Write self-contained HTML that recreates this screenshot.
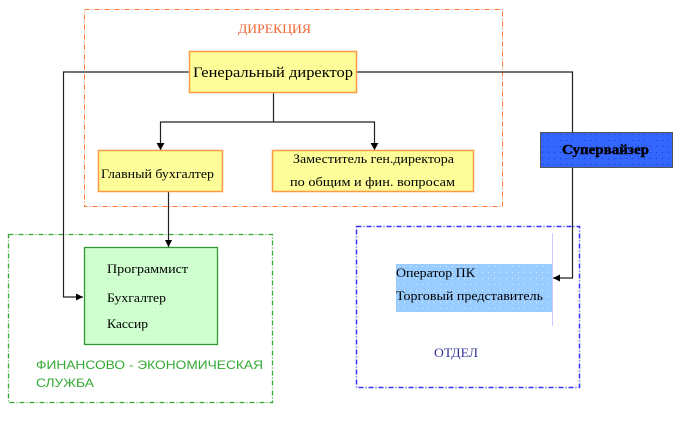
<!DOCTYPE html>
<html><head><meta charset="utf-8">
<style>
html,body{margin:0;padding:0;background:#fff;}
svg{display:block;}
.s{font-family:"Liberation Serif","Noto Serif CJK SC",serif;}
.a{font-family:"Liberation Sans","Noto Sans CJK SC",sans-serif;}
</style></head>
<body>
<svg width="673" height="423" viewBox="0 0 673 423" xmlns="http://www.w3.org/2000/svg">
<defs>
<pattern id="dy" width="4" height="4" patternUnits="userSpaceOnUse"><rect width="4" height="4" fill="#ffff99"/><rect x="1" y="1" width="1" height="1" fill="#f4eea0"/></pattern>
<pattern id="dg" width="4" height="4" patternUnits="userSpaceOnUse"><rect width="4" height="4" fill="#ccffcc"/><rect x="1" y="1" width="1" height="1" fill="#e8ffe8"/></pattern>
<pattern id="db" width="6" height="6" patternUnits="userSpaceOnUse"><rect width="6" height="6" fill="#3366ff"/><rect x="2" y="2" width="1" height="1" fill="#1a3acc"/></pattern>
<pattern id="dl" width="6" height="6" patternUnits="userSpaceOnUse"><rect width="6" height="6" fill="#99ccff"/><rect x="2" y="2" width="1" height="1" fill="#d8ecff"/></pattern>
<marker id="ar" viewBox="0 0 10 10" refX="10" refY="5" markerWidth="7" markerHeight="7" markerUnits="userSpaceOnUse" orient="auto"><path d="M0,0 L10,5 L0,10 z" fill="#000"/></marker>
</defs>

<!-- dashed group boxes -->
<rect x="84.5" y="9.5" width="418" height="197" fill="none" stroke="#ff7733" stroke-width="1" stroke-dasharray="5 2 1 2"/>
<rect x="8.5" y="234.5" width="264" height="168" fill="none" stroke="#33aa33" stroke-width="1.3" stroke-dasharray="5 2 1 2"/>
<rect x="356.5" y="226.5" width="223" height="161" fill="none" stroke="#3333ff" stroke-width="1.5" stroke-dasharray="5 2 1 2"/>

<text x="238" y="33" class="s" font-size="13" fill="#ee6633" textLength="73" lengthAdjust="spacingAndGlyphs">ДИРЕКЦИЯ</text>

<!-- connectors -->
<polyline points="189,72 63.5,72 63.5,297 83,297" fill="none" stroke="#222" stroke-width="1.2" marker-end="url(#ar)"/>
<polyline points="357,72 572.5,72 572.5,132" fill="none" stroke="#222" stroke-width="1.2"/>
<polyline points="572.5,168 572.5,278 553,278" fill="none" stroke="#222" stroke-width="1.2" marker-end="url(#ar)"/>
<line x1="273.5" y1="93" x2="273.5" y2="122" stroke="#222" stroke-width="1.2"/>
<polyline points="160.5,150 160.5,122 374.5,122 374.5,150" fill="none" stroke="#222" stroke-width="1.2"/>
<path d="M156.5,143 L164.5,143 L160.5,150 z" fill="#000"/>
<path d="M370.5,143 L378.5,143 L374.5,150 z" fill="#000"/>
<line x1="168.5" y1="192" x2="168.5" y2="247" stroke="#222" stroke-width="1.2" marker-end="url(#ar)"/>

<!-- Генеральный директор -->
<rect x="189.5" y="51.5" width="167" height="41" fill="url(#dy)" stroke="#ff9944" stroke-width="1.5"/>
<text x="193" y="77" class="s" font-size="15" fill="#000" textLength="160" lengthAdjust="spacingAndGlyphs">Генеральный директор</text>

<!-- Главный бухгалтер -->
<rect x="98.5" y="150.5" width="124" height="41" fill="url(#dy)" stroke="#ff9944" stroke-width="1.5"/>
<text x="101" y="178" class="s" font-size="13" fill="#000" textLength="113" lengthAdjust="spacingAndGlyphs">Главный бухгалтер</text>

<!-- Заместитель -->
<rect x="272.5" y="150.5" width="201" height="41" fill="url(#dy)" stroke="#ff9944" stroke-width="1.5"/>
<text x="293" y="163" class="s" font-size="13" fill="#000" textLength="161" lengthAdjust="spacingAndGlyphs">Заместитель ген.директора</text>
<text x="290" y="186" class="s" font-size="13" fill="#000" textLength="165" lengthAdjust="spacingAndGlyphs">по общим и фин.  вопросам</text>

<!-- Супервайзер -->
<rect x="540.5" y="132.5" width="132" height="35" fill="url(#db)" stroke="#555" stroke-width="1"/>
<text x="562" y="154" class="s" font-size="14" font-weight="bold" fill="#000" stroke="#000" stroke-width="0.4" textLength="87" lengthAdjust="spacingAndGlyphs">Супервайзер</text>

<!-- green box -->
<rect x="84.5" y="247.5" width="133" height="97" fill="url(#dg)" stroke="#339933" stroke-width="1.3"/>
<text x="107" y="273" class="s" font-size="13" fill="#000" textLength="81" lengthAdjust="spacingAndGlyphs">Программист</text>
<text x="107" y="302" class="s" font-size="13" fill="#000" textLength="59" lengthAdjust="spacingAndGlyphs">Бухгалтер</text>
<text x="107" y="328" class="s" font-size="13" fill="#000" textLength="41" lengthAdjust="spacingAndGlyphs">Кассир</text>

<text x="36" y="369" class="a" font-size="12" fill="#33aa33" textLength="227" lengthAdjust="spacingAndGlyphs">ФИНАНСОВО - ЭКОНОМИЧЕСКАЯ</text>
<text x="36" y="387" class="a" font-size="12" fill="#33aa33" textLength="58" lengthAdjust="spacingAndGlyphs">СЛУЖБА</text>

<!-- light blue box -->
<rect x="396" y="264" width="156" height="48" fill="url(#dl)"/>
<line x1="552.5" y1="233" x2="552.5" y2="326" stroke="#ccccff" stroke-width="1"/>
<text x="396" y="277" class="s" font-size="13" fill="#000" textLength="79" lengthAdjust="spacingAndGlyphs">Оператор ПК</text>
<text x="396" y="300" class="s" font-size="13" fill="#000" textLength="147" lengthAdjust="spacingAndGlyphs">Торговый представитель</text>

<text x="434" y="357" class="s" font-size="13" fill="#333399" textLength="44" lengthAdjust="spacingAndGlyphs">ОТДЕЛ</text>
</svg>
</body></html>
